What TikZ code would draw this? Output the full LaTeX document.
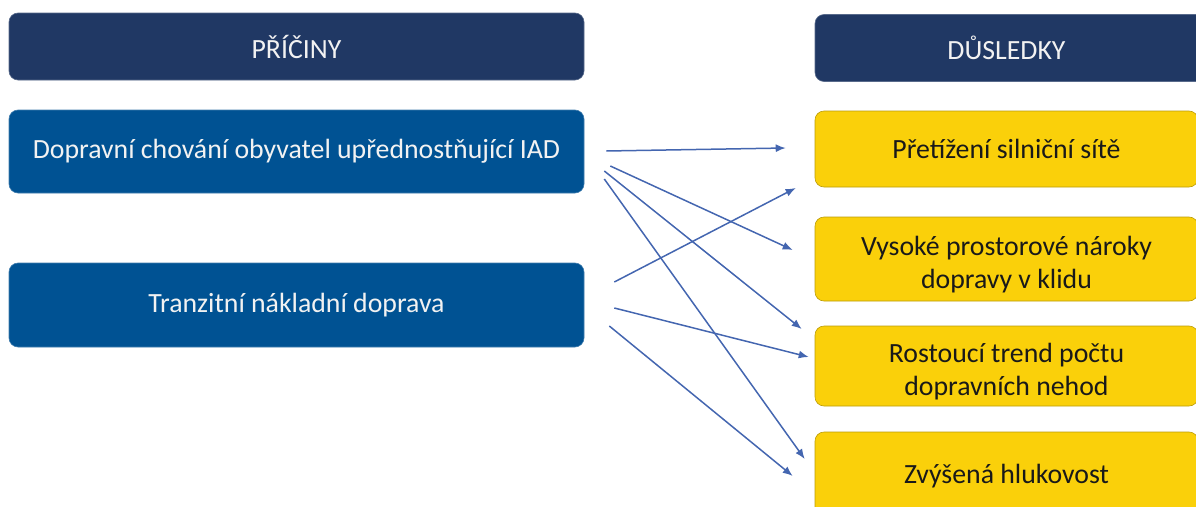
\documentclass[tikz,border=0pt]{standalone}
\usepackage{fontspec}
\setmainfont{Carlito}
\usepackage{xcolor}
\usepackage{tikz}
\usetikzlibrary{arrows.meta,positioning}

\definecolor{headblue}{RGB}{32,56,100}
\definecolor{causeblue}{RGB}{0,82,147}
\definecolor{effyellow}{RGB}{250,208,10}
\definecolor{arrowblue}{RGB}{68,102,176}
\newcommand{\lowstrut}{\rule{0pt}{30pt}}

\begin{document}
\begin{tikzpicture}[x=1pt,y=1pt,font=\fontsize{27.8}{33.5}\selectfont,
    box/.style={rounded corners=9pt,minimum width=575pt,inner sep=0pt,align=center,line width=0.6pt},
    head/.style={box,fill=headblue,draw=headblue!75!white,text=white!95!black,minimum height=67pt},
    cause/.style={box,fill=causeblue,draw=causeblue!75!white,text=white!95!black},
    effect/.style={box,fill=effyellow,draw=effyellow!75!black,text=black!90,minimum width=383pt},
    arr/.style={-{Latex[length=10pt,width=8pt]},color=arrowblue,line width=1.5pt}]
    \useasboundingbox (0,0) rectangle (1196,-506);
    \clip (0,0) rectangle (1196,-506);

    \node[head,name=hc] at (296.5,-46.5) {PŘÍČINY};
    \node[cause,name=c1,below of=hc,node distance=105pt,minimum height=83pt] {Dopravní chování obyvatel upřednostňující IAD};
    \node[cause,name=c2,below of=c1,node distance=153.5pt,minimum height=84pt] {Tranzitní nákladní doprava};

    \node[head,name=he,minimum width=395pt] at (1012.5,-48) {\hspace*{-12pt}DŮSLEDKY};
    \node[effect,name=e1,below of=he,node distance=101pt,minimum height=76pt,xshift=-6pt] {Přetížení silniční sítě};
    \node[effect,name=e2,below of=e1,node distance=110pt,minimum height=84pt] {\lowstrut Vysoké prostorové nároky\\dopravy v klidu};
    \node[effect,name=e3,below of=e2,node distance=107pt,minimum height=80pt] {\lowstrut Rostoucí trend počtu\\dopravních nehod};
    \node[effect,name=e4,below of=e3,node distance=110pt,minimum height=88pt] {Zvýšená hlukovost};

    \path[arr] ([xshift=22pt,yshift=0.5pt]c1.east) edge ([xshift=-29pt,yshift=1pt]e1.west)
               ([xshift=26pt,yshift=-14.5pt]c1.east) edge ([xshift=-22pt,yshift=9pt]e2.west)
               ([xshift=20pt,yshift=-19.5pt]c1.east) edge ([xshift=-13pt,yshift=37pt]e3.west)
               ([xshift=20pt,yshift=-27.5pt]c1.east) edge ([xshift=-10pt,yshift=17pt]e4.west)
               ([xshift=30pt,yshift=23pt]c2.east) edge ([xshift=-19pt,yshift=-39pt]e1.west)
               ([xshift=30pt,yshift=-3pt]c2.east) edge ([xshift=-6pt,yshift=9pt]e3.west)
               ([xshift=25pt,yshift=-21pt]c2.east) edge ([xshift=-22pt]e4.west);
\end{tikzpicture}
\end{document}
